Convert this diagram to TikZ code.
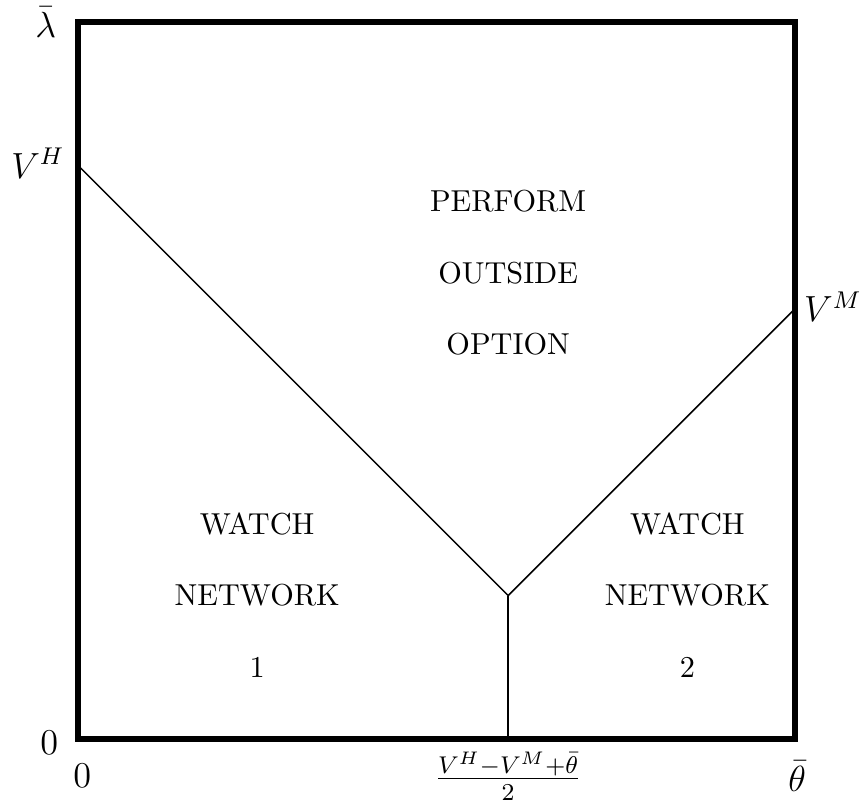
\documentclass[tikz,border=0pt]{standalone}
\usetikzlibrary{positioning}

\begin{document}
\begin{tikzpicture}[
    x=23.66pt, y=23.66pt,
    frame/.style={draw, line width=2pt},
    boundary/.style={draw, line width=0.5pt},
    region/.style={align=center, font=\normalsize},
    axislabel/.style={font=\large, inner sep=0pt}
]
\useasboundingbox (-1.088,-0.907) rectangle (10.95,10.307);

% Corner points
\coordinate (origin) at (0,0);
\coordinate (corner) at (10,10);
\coordinate (vh) at (0,8);
\coordinate (kink) at (6,2);
\coordinate (vm) at (10,6);
\coordinate (cut) at (6,0);

% Boundaries
\draw[boundary] (vh) -- (kink) -- (vm);
\draw[boundary] (kink) -- (cut);
\draw[frame] (origin) rectangle (corner);

% Axis labels
\node[axislabel] (lambdabar) at (-0.45,10) {$\bar{\lambda}$};
\node[axislabel] (vhlabel) at (-0.56,8.03) {$V^H$};
\node[axislabel] (vmlabel) at (10.53,6.03) {$V^M$};
\node[axislabel] (zeroy) at (-0.4,-0.05) {$0$};
\node[axislabel] (zerox) at (0.06,-0.52) {$0$};
\node[axislabel] (cutlabel) at (6,-0.52) {$\frac{V^H-V^M+\bar{\theta}}{2}$};
\node[axislabel] (thetabar) at (10.03,-0.52) {$\bar{\theta}$};

% Regions
\node[region] (perform) at (6,7.5) {PERFORM};
\node[region] (outside) at (6,6.5) {OUTSIDE};
\node[region] (option) at (6,5.5) {OPTION};

\node[region] (watchone) at (2.5,3) {WATCH};
\node[region] (netone) at (2.5,2) {NETWORK};
\node[region] (one) at (2.5,1) {1};

\node[region] (watchtwo) at (8.5,3) {WATCH};
\node[region] (nettwo) at (8.5,2) {NETWORK};
\node[region] (two) at (8.5,1) {2};

\end{tikzpicture}
\end{document}
